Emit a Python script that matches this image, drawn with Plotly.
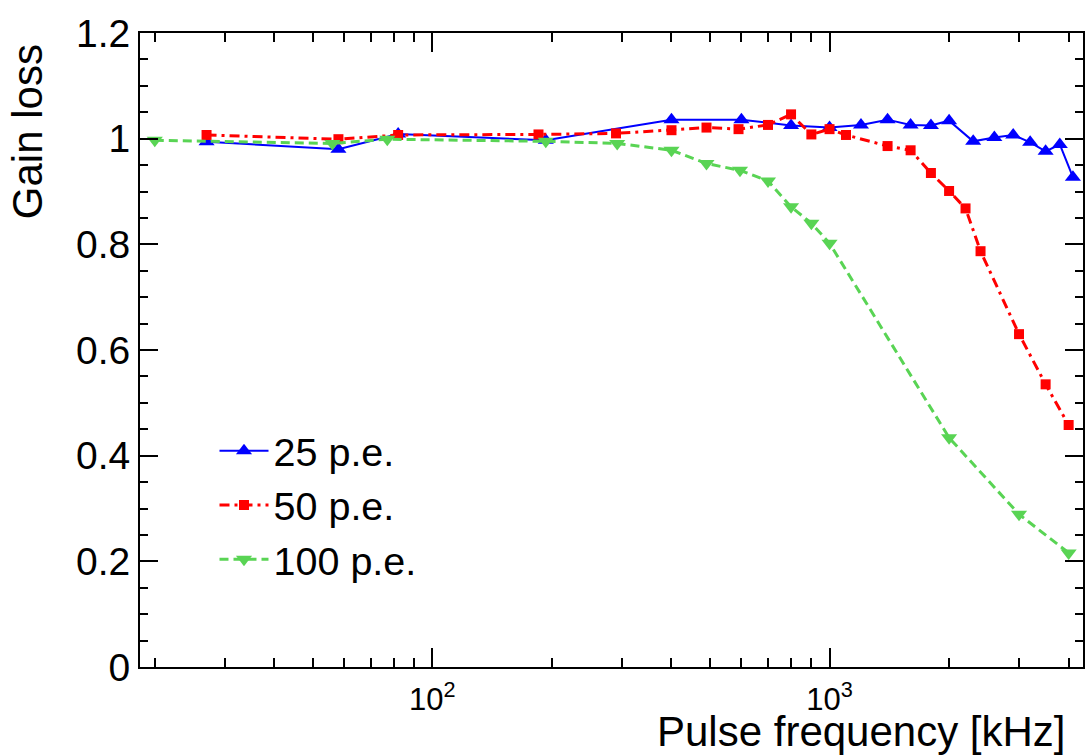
import plotly.graph_objects as go

# Gain loss vs. pulse frequency for three light intensities
freq_25 = [27, 58, 82, 193, 400, 600, 800, 1000, 1200, 1400, 1600, 1800, 2000,
           2300, 2600, 2900, 3200, 3500, 3800, 4100]
gain_25 = [0.994, 0.980, 1.009, 0.997, 1.036, 1.036, 1.025, 1.021, 1.026, 1.036,
           1.026, 1.025, 1.034, 0.995, 1.002, 1.007, 0.993, 0.976, 0.989, 0.927]

freq_50 = [27, 58, 82, 185, 290, 400, 490, 590, 700, 800, 900, 1000, 1100, 1400,
           1600, 1800, 2000, 2200, 2400, 3000, 3500, 4000]
gain_50 = [1.007, 0.999, 1.007, 1.008, 1.010, 1.016, 1.021, 1.018, 1.026, 1.046,
           1.008, 1.018, 1.007, 0.986, 0.978, 0.935, 0.901, 0.868, 0.787, 0.630,
           0.535, 0.458]

freq_100 = [20, 56, 77, 193, 292, 400, 490, 595, 700, 800, 900, 1000, 2000, 3000, 4000]
gain_100 = [0.997, 0.991, 0.999, 0.995, 0.991, 0.978, 0.953, 0.940, 0.920, 0.871,
            0.840, 0.802, 0.434, 0.289, 0.216]

series_names = ["25 p.e.", "50 p.e.", "100 p.e."]

x_major_ticks = [100, 1000]
x_major_text = ["10<sup>2</sup>", "10<sup>3</sup>"]
x_minor_ticks = [20, 30, 40, 50, 60, 70, 80, 90,
                 200, 300, 400, 500, 600, 700, 800, 900,
                 2000, 3000, 4000]
y_major_ticks = [0, 0.2, 0.4, 0.6, 0.8, 1.0, 1.2]
y_major_text = ["0", "0.2", "0.4", "0.6", "0.8", "1", "1.2"]

FONT = "Liberation Sans, Arial, Helvetica, sans-serif"
BLUE = "#0000ff"
RED = "#ff0000"
GREEN = "#59d454"

fig = go.Figure()

fig.add_trace(go.Scatter(
    x=freq_25, y=gain_25, name=series_names[0], mode="lines+markers",
    line=dict(color=BLUE, width=2),
    marker=dict(symbol="triangle-up", size=14, color=BLUE),
))
fig.add_trace(go.Scatter(
    x=freq_50, y=gain_50, name=series_names[1], mode="lines+markers",
    line=dict(color=RED, width=3, dash="10px,5px,3px,5px"),
    marker=dict(symbol="square", size=10, color=RED),
))
fig.add_trace(go.Scatter(
    x=freq_100, y=gain_100, name=series_names[2], mode="lines+markers",
    line=dict(color=GREEN, width=3, dash="9px,5px"),
    marker=dict(symbol="triangle-down", size=14, color=GREEN),
))

fig.update_layout(
    width=1086, height=755,
    margin=dict(l=140, r=1, t=33, b=88),
    paper_bgcolor="white", plot_bgcolor="white",
    font=dict(family=FONT, color="black"),
    showlegend=True,
    legend=dict(
        x=0.079, y=0.392, xanchor="left", yanchor="top",
        bgcolor="rgba(0,0,0,0)", borderwidth=0,
        font=dict(size=39.5, family=FONT),
        itemwidth=49,
        tracegroupgap=0,
    ),
    xaxis=dict(
        type="log", range=[1.2638, 3.6382],
        showgrid=False, zeroline=False,
        showline=True, linecolor="black", linewidth=2, mirror="allticks",
        ticks="inside", ticklen=19, tickwidth=1.5, tickcolor="black",
        tickmode="array", tickvals=x_major_ticks, ticktext=x_major_text,
        tickfont=dict(size=31, family=FONT),
        ticklabelstandoff=4,
        minor=dict(ticks="inside", ticklen=9, tickwidth=1.5, tickcolor="black",
                   tickmode="array", tickvals=x_minor_ticks, showgrid=False),
    ),
    yaxis=dict(
        range=[0, 1.2],
        showgrid=False, zeroline=False,
        showline=True, linecolor="black", linewidth=2, mirror="allticks",
        ticks="inside", ticklen=18, tickwidth=1.5, tickcolor="black",
        tickmode="array", tickvals=y_major_ticks, ticktext=y_major_text,
        tickfont=dict(size=39, family=FONT),
        ticklabelstandoff=0,
        minor=dict(ticks="inside", ticklen=8, tickwidth=1.5, tickcolor="black",
                   dtick=0.05, showgrid=False),
    ),
    annotations=[
        dict(text="Pulse frequency [kHz]", xref="paper", yref="paper",
             x=0.984, y=-0.142, xanchor="right", yanchor="bottom",
             showarrow=False, font=dict(size=42, family=FONT)),
        dict(text="Gain loss", xref="paper", yref="paper",
             x=-0.119, y=0.986, xanchor="center", yanchor="top", textangle=-90,
             showarrow=False, font=dict(size=42, family=FONT)),
    ],
)

fig.write_html("out.html")
